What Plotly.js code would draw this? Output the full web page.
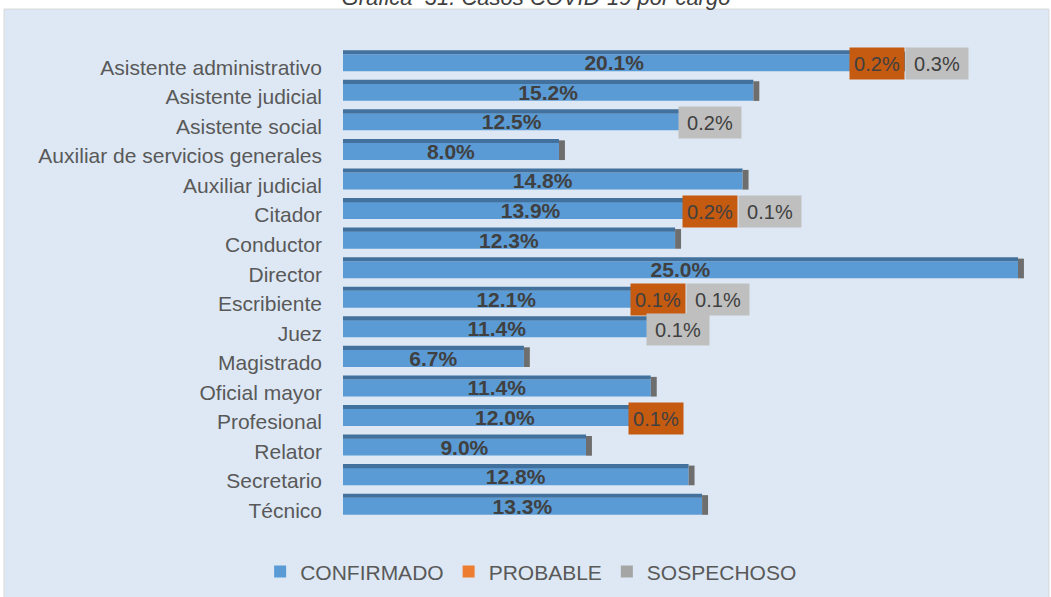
<!DOCTYPE html>
<html>
<head>
<meta charset="utf-8">
<script src="https://cdn.plot.ly/plotly-3.0.1.min.js"></script>
<style>
html, body { margin: 0; padding: 0; background: #ffffff; }
#chart { width: 1051px; height: 597px; }
</style>
</head>
<body>
<div id="chart"></div>
<script>
// ---- Data (percent of cases by job position) ----
const categories = [
  "Asistente administrativo", "Asistente judicial", "Asistente social",
  "Auxiliar de servicios generales", "Auxiliar judicial", "Citador",
  "Conductor", "Director", "Escribiente", "Juez", "Magistrado",
  "Oficial mayor", "Profesional", "Relator", "Secretario", "Técnico"
];
const confirmado = [20.1, 15.2, 12.5, 8.0, 14.8, 13.9, 12.3, 25.0, 12.1, 11.4, 6.7, 11.4, 12.0, 9.0, 12.8, 13.3];
const probable   = [0.2, 0, 0, 0, 0, 0.2, 0, 0, 0.1, 0, 0, 0, 0.1, 0, 0, 0];
const sospechoso = [0.3, 0, 0.2, 0, 0, 0.1, 0, 0, 0.1, 0.1, 0, 0, 0, 0, 0, 0];
const seriesNames = ["CONFIRMADO", "PROBABLE", "SOSPECHOSO"];
const chartTitle = "Gráfica  31. Casos COVID-19 por cargo";

// ---- Derived ----
const fmt = v => v.toFixed(1) + "%";
const baseProb = confirmado.slice();
const baseSosp = confirmado.map((c, i) => c + probable[i]);
const totals = confirmado.map((c, i) => c + probable[i] + sospechoso[i]);

// ---- Styles ----
const FONT = "Liberation Sans, Arial, sans-serif";
const MAIN_OFF = -0.44, MAIN_W = 0.576;
const TOP_OFF = -0.576, TOP_W = 0.14;
const DEPTH = 0.22;

const common = { type: "bar", orientation: "h", y: categories, offset: MAIN_OFF, width: MAIN_W, hoverinfo: "skip" };

const traces = [
  Object.assign({}, common, {
    name: seriesNames[0], x: confirmado,
    marker: { color: "#5b9bd5" },
    text: confirmado.map(fmt), textposition: "inside", insidetextanchor: "middle",
    constraintext: "none", textangle: 0,
    textfont: { family: FONT, size: 21, color: "#404040", weight: 700 }
  }),
  Object.assign({}, common, {
    name: seriesNames[1], x: probable, base: baseProb,
    marker: { color: "#ed7d31" }
  }),
  Object.assign({}, common, {
    name: seriesNames[2], x: sospechoso, base: baseSosp,
    marker: { color: "#a5a5a5" }
  }),
  // 3D top face
  Object.assign({}, common, {
    name: "top", x: totals, offset: TOP_OFF, width: TOP_W,
    marker: { color: "#41719c" }, showlegend: false
  }),
  // 3D side face
  Object.assign({}, common, {
    name: "side", x: totals.map(() => DEPTH), base: totals,
    offset: TOP_OFF + 0.05, width: TOP_W + MAIN_W - 0.05,
    marker: { color: "#6e6e6e" }, showlegend: false
  })
];

const annotations = [];
categories.forEach((cat, i) => {
  if (probable[i] > 0) {
    annotations.push({
      x: baseSosp[i], y: cat, xref: "x", yref: "y",
      text: fmt(probable[i]), showarrow: false,
      xanchor: "right", xshift: 14, yshift: 4,
      width: 54, height: 31, borderpad: 0,
      bgcolor: "#c55a11",
      font: { family: FONT, size: 20, color: "#404040" }
    });
  }
  if (sospechoso[i] > 0) {
    const hasProb = probable[i] > 0;
    annotations.push({
      x: hasProb ? baseSosp[i] : totals[i], y: cat, xref: "x", yref: "y",
      text: fmt(sospechoso[i]), showarrow: false,
      xanchor: "left", xshift: hasProb ? 14 : -8, yshift: 4,
      width: 62, height: 31, borderpad: 0,
      bgcolor: "#bfbfbf",
      font: { family: FONT, size: 20, color: "#404040" }
    });
  }
});

const layout = {
  width: 1051, height: 597,
  margin: { l: 343, r: 6, t: 48, b: 72 },
  paper_bgcolor: "#ffffff",
  plot_bgcolor: "rgba(0,0,0,0)",
  barmode: "overlay",
  title: {
    text: chartTitle,
    font: { family: FONT, size: 22, color: "#404040", style: "italic" },
    xref: "container", yref: "container", x: 0.51, y: 0.992, yanchor: "bottom", xanchor: "center"
  },
  xaxis: { range: [0, 26], visible: false, fixedrange: true },
  yaxis: {
    type: "category", categoryorder: "array", categoryarray: categories,
    range: [15.45, -0.65], showgrid: false, zeroline: false, showline: false,
    ticks: "", ticklabelstandoff: 20,
    tickfont: { family: FONT, size: 21, color: "#595959" }, fixedrange: true
  },
  showlegend: true,
  legend: {
    orientation: "h", x: 0.268, xanchor: "center", y: -0.098, yanchor: "middle",
    traceorder: "normal", bgcolor: "rgba(0,0,0,0)", itemwidth: 30,
    font: { family: FONT, size: 21, color: "#595959" }
  },
  shapes: [{
    type: "rect", xref: "paper", yref: "paper", layer: "below",
    x0: -0.4829, x1: 1.0057, y0: -0.16, y1: 1.0818,
    fillcolor: "#dde8f4", line: { color: "#d9d9d9", width: 1 }
  }],
  annotations: annotations
};

Plotly.newPlot("chart", traces, layout, { displayModeBar: false, staticPlot: true });
</script>
</body>
</html>
